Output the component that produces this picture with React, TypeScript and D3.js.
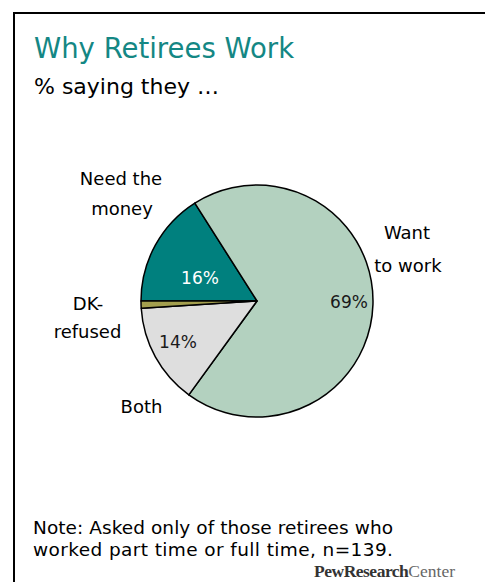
import React from "react";
import * as d3 from "d3";

const categories = ["Need the money", "Want to work", "Both", "DK-refused"];
const values = [16, 69, 14, 1];
const labelLines = [["Need the", "money"], ["Want", "to work"], ["Both"], ["DK-", "refused"]];
const colors = ["#00807e", "#b3d1bf", "#dedede", "#a39f4e"];
const pctColors = ["#ffffff", "#1a1a1a", "#1a1a1a", "#1a1a1a"];
const showPct = [true, true, true, false];

const W = 485;
const H = 582;
const cx = 257;
const cy = 301;
const R = 116;

// label placement relative to pie centre (alphabetic baselines, per line)
const outerLabel = [
  [{ dx: -136, dy: -116 }, { dx: -135, dy: -86 }],
  [{ dx: 150, dy: -62 }, { dx: 151, dy: -29 }],
  [{ dx: -115.5, dy: 112 }],
  [{ dx: -169, dy: 9 }, { dx: -169.5, dy: 37 }],
];
const pctPos = [
  { dx: -57, dy: -17 },
  { dx: 92, dy: 7 },
  { dx: -79, dy: 47 },
  { dx: 0, dy: 0 },
];

export default function App() {
  const pie = d3
    .pie<number>()
    .sort(null)
    .value((d) => d)
    .startAngle(-Math.PI / 2)
    .endAngle((3 * Math.PI) / 2);
  const arcs = pie(values);
  const arc = d3.arc<d3.PieArcDatum<number>>().innerRadius(0).outerRadius(R);
  const font = "'DejaVu Sans', Verdana, sans-serif";

  return (
    <svg
      width={W}
      height={H}
      style={{ position: "absolute", left: 0, top: 0, background: "#fff", overflow: "hidden" }}
      fontFamily={font}
    >
      <rect x={14} y={13} width={W + 100} height={H + 100} fill="#fff" stroke="#000" strokeWidth={2} />
      <text x={34} y={58} fill="#148784" fontSize={27.5}>
        Why Retirees Work
      </text>
      <text x={34} y={94} fill="#000" fontSize={22}>
        % saying they …
      </text>
      <g transform={`translate(${cx},${cy})`}>
        {arcs.map((a, i) => (
          <path key={i} d={arc(a) || ""} fill={colors[i]} stroke="#000" strokeWidth={1.5} strokeLinejoin="round" />
        ))}
        {arcs.map((a, i) => {
          if (!showPct[i]) return null;
          const p = pctPos[i];
          return (
            <text
              key={"p" + i}
              x={p.dx}
              y={p.dy}
              textAnchor="middle"
              fontSize={17}
              fill={pctColors[i]}
            >
              {values[i]}%
            </text>
          );
        })}
        {labelLines.map((lines, i) => (
          <g key={"l" + i}>
            {lines.map((ln, j) => (
              <text
                key={j}
                x={outerLabel[i][j].dx}
                y={outerLabel[i][j].dy}
                textAnchor="middle"
                fontSize={18}
                fill="#000"
              >
                {ln}
              </text>
            ))}
          </g>
        ))}
      </g>
      <text x={33} y={534} fontSize={18.5} fill="#000" textLength={360} lengthAdjust="spacing">
        Note: Asked only of those retirees who
      </text>
      <text x={33} y={556} fontSize={18.5} fill="#000" textLength={360} lengthAdjust="spacing">
        worked part time or full time, n=139.
      </text>
      <text x={455} y={577} textAnchor="end" fontFamily="'Liberation Serif', 'Times New Roman', serif" fontSize={17.5}>
        <tspan fill="#333" fontWeight="bold" letterSpacing={-0.5}>PewResearch</tspan>
        <tspan fill="#666">Center</tspan>
      </text>
    </svg>
  );
}
